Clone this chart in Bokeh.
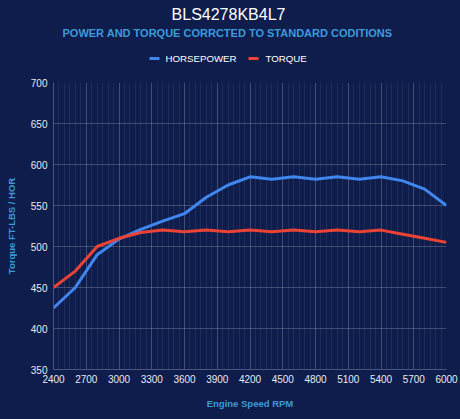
from bokeh.plotting import figure
from bokeh.models import SingleIntervalTicker, Range1d
from bokeh.layouts import column
from bokeh.core.properties import value
from bokeh.embed import file_html
from bokeh.resources import INLINE

rpm = [2400, 2600, 2800, 3000, 3200, 3400, 3600, 3800, 4000, 4200, 4400,
       4600, 4800, 5000, 5200, 5400, 5600, 5800, 6000]
horsepower = [425, 450, 490, 509, 521, 531, 540, 560, 575, 585, 582,
              585, 582, 585, 582, 585, 580, 570, 550]
torque = [450, 470, 500, 510, 517, 520, 518, 520, 518, 520, 518,
          520, 518, 520, 518, 520, 515, 510, 505]
series_names = ["HORSEPOWER", "TORQUE"]
title_text = "BLS4278KB4L7"
subtitle_text = "POWER AND TORQUE CORRCTED TO STANDARD CODITIONS"

BG = "#0f1d4c"
BLUE = "#3f86ee"
RED = "#ea4335"
LABEL_BLUE = "#3d9ad8"
FONT = "Liberation Sans"

W = 460
HEAD_H = 72
MAIN_H = 419 - HEAD_H
FRAME_L, FRAME_R = 53, 446

# ---- header: title, subtitle, legend (frame aligned with main chart, page-pixel coords) ----
head = figure(width=W, height=HEAD_H, output_backend="svg", toolbar_location=None,
              x_range=Range1d(FRAME_L, FRAME_R), y_range=Range1d(HEAD_H, 0),
              x_axis_location=None, y_axis_location=None,
              background_fill_color=BG, border_fill_color=BG, outline_line_color=None,
              min_border=0)
head.grid.visible = False
head.text(x=[228], y=[14], text=[title_text], text_align="center",
          text_baseline="middle", text_color="#ffffff",
          text_font=value(FONT), text_font_size="16px")
head.text(x=[227], y=[32], text=[subtitle_text], text_align="center",
          text_baseline="middle", text_color=LABEL_BLUE,
          text_font=value(FONT), text_font_size="11px", text_font_style="bold")
head.segment(x0=[149, 248], y0=[58, 58], x1=[159, 258], y1=[58, 58],
             line_color=[BLUE, RED], line_width=3)
head.text(x=[165, 265], y=[58, 58], text=series_names, text_align="left",
          text_baseline="middle", text_color="#ffffff",
          text_font=value(FONT), text_font_size="9.7px")

# ---- main chart ----
p = figure(width=W, height=MAIN_H, output_backend="svg", toolbar_location=None,
           x_range=Range1d(2400, 6000), y_range=Range1d(350, 700),
           background_fill_color=BG, border_fill_color=BG, outline_line_color=None,
           min_border_left=FRAME_L, min_border_right=W - FRAME_R,
           min_border_top=82 - HEAD_H, min_border_bottom=MAIN_H - (82 - HEAD_H) - 287)

p.line(rpm, horsepower, line_color=BLUE, line_width=3)
p.line(rpm, torque, line_color=RED, line_width=3)

p.xaxis.ticker = SingleIntervalTicker(interval=300, num_minor_ticks=6)
p.yaxis.ticker = SingleIntervalTicker(interval=50, num_minor_ticks=0)

for ax in (p.xaxis[0], p.yaxis[0]):
    ax.major_tick_line_color = None
    ax.minor_tick_line_color = None
    ax.major_tick_out = 0
    ax.major_tick_in = 0
    ax.minor_tick_out = 0
    ax.minor_tick_in = 0
    ax.axis_line_color = "#4a5680"
    ax.major_label_text_color = "#e8eaf0"
    ax.major_label_text_font = FONT
    ax.major_label_text_font_size = "10px"
    ax.axis_label_text_color = LABEL_BLUE
    ax.axis_label_text_font = FONT
    ax.axis_label_text_font_size = "9.5px"
    ax.axis_label_text_font_style = "bold"

p.xaxis.axis_label = "Engine Speed RPM"
p.yaxis.axis_label = "Torque FT-LBS / HOR"
p.xaxis.major_label_standoff = 5
p.xaxis.axis_label_standoff = 12
p.yaxis.major_label_standoff = 6
p.yaxis.axis_label_standoff = 11

p.xgrid.grid_line_color = "#ffffff"
p.xgrid.grid_line_alpha = 0.16
p.xgrid.minor_grid_line_color = "#ffffff"
p.xgrid.minor_grid_line_alpha = 0.07
p.ygrid.grid_line_color = "#ffffff"
p.ygrid.grid_line_alpha = 0.2

layout = column(head, p, spacing=0)

html = file_html(layout, INLINE)
html = html.replace("<head>", "<head><style>html,body{background:%s;}</style>" % BG, 1)
open("out.html", "w").write(html)
